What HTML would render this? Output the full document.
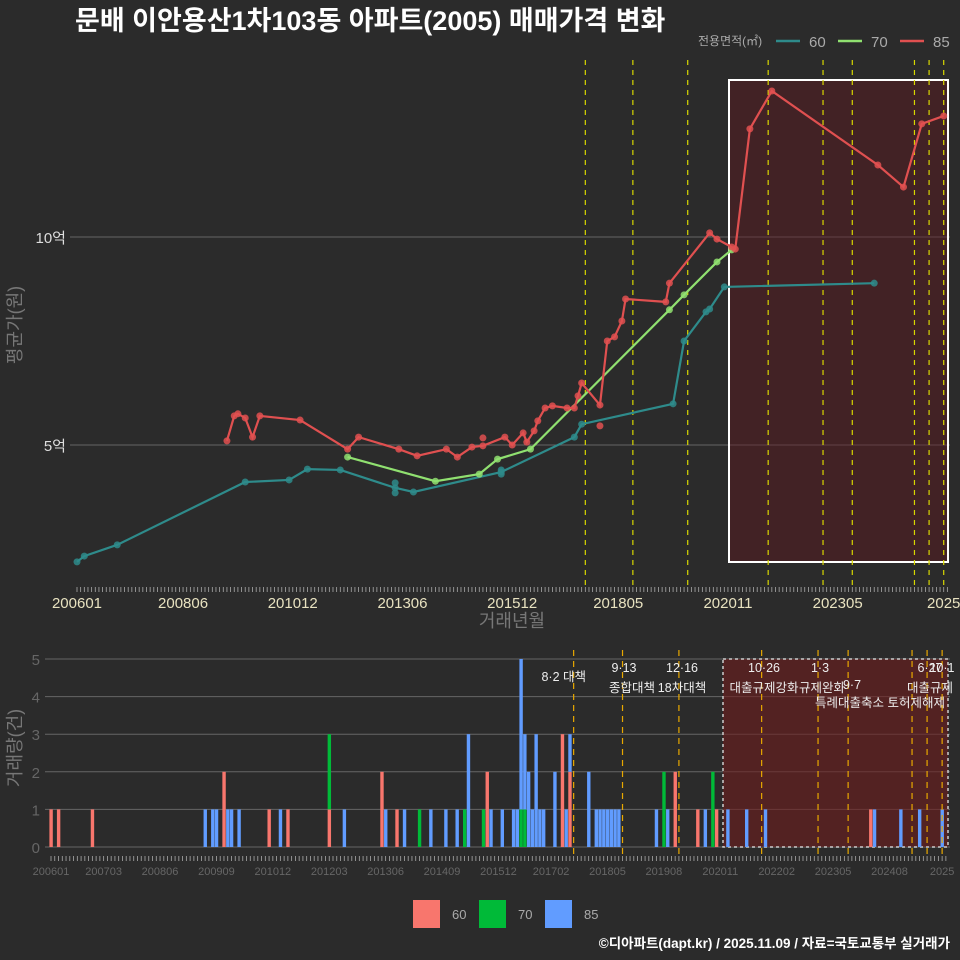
<!DOCTYPE html>
<html><head><meta charset="utf-8">
<style>
html,body{margin:0;padding:0;background:#2b2b2b;}
svg{display:block;font-family:"Liberation Sans","Noto Sans CJK KR",sans-serif;}
</style></head>
<body>
<svg id="chart" width="960" height="960" viewBox="0 0 960 960">
<rect x="0" y="0" width="960" height="960" fill="#2b2b2b"/>
<text x="75" y="30" fill="#ffffff" font-size="27" font-weight="bold">문배 이안용산1차103동 아파트(2005) 매매가격 변화</text>
<g>
<text x="698" y="45" fill="#aaaaaa" font-size="12">전용면적(㎡)</text>
<line x1="776" y1="41" x2="800" y2="41" stroke="#2e8b8b" stroke-width="2.5"/>
<text x="809" y="47" fill="#aaaaaa" font-size="15">60</text>
<line x1="838" y1="41" x2="862" y2="41" stroke="#90e070" stroke-width="2.5"/>
<text x="871" y="47" fill="#aaaaaa" font-size="15">70</text>
<line x1="900" y1="41" x2="924" y2="41" stroke="#e05050" stroke-width="2.5"/>
<text x="933" y="47" fill="#aaaaaa" font-size="15">85</text>
</g>
<g id="topPanel"></g>
<g id="botPanel"></g>
<text transform="translate(21,325) rotate(-90)" text-anchor="middle" fill="#777777" font-size="18">평균가(원)</text>
<text x="512" y="627" text-anchor="middle" fill="#777777" font-size="18">거래년월</text>
<text transform="translate(21,748) rotate(-90)" text-anchor="middle" fill="#777777" font-size="18">거래량(건)</text>
<g>
<rect x="413" y="900" width="27" height="28" fill="#f8766d"/>
<text x="452" y="919" fill="#aaaaaa" font-size="13">60</text>
<rect x="479" y="900" width="27" height="28" fill="#00ba38"/>
<text x="518" y="919" fill="#aaaaaa" font-size="13">70</text>
<rect x="545" y="900" width="27" height="28" fill="#619cff"/>
<text x="584" y="919" fill="#aaaaaa" font-size="13">85</text>
</g>
<text x="950" y="948" text-anchor="end" fill="#ffffff" font-size="13.5" font-weight="bold">©디아파트(dapt.kr) / 2025.11.09 / 자료=국토교통부 실거래가</text>
</svg>
<script>
// ---- data (month index from 2006-01, price in 억) ----
const m60 = [0,2,11,46,58,63,72,87,92,116,136,138,163,166,172,173,177,218];
const v60 = [2.19,2.33,2.60,4.11,4.16,4.42,4.40,3.97,3.87,4.35,5.19,5.50,5.99,7.50,8.20,8.27,8.80,8.89];
const m70 = [74,98,110,115,124,162,166,175,179];
const v70 = [4.71,4.13,4.30,4.66,4.90,8.25,8.61,9.40,9.69];
const m85 = [41,43,44,46,48,50,61,74,77,88,93,101,104,108,111,117,119,122,123,125,126,128,130,134,136,137,138,143,145,147,149,150,161,162,173,175,179,180,184,190,219,226,231,237];
const v85 = [5.10,5.70,5.75,5.65,5.19,5.70,5.60,4.90,5.19,4.90,4.74,4.90,4.71,4.95,4.98,5.19,5.00,5.29,5.07,5.34,5.58,5.89,5.94,5.89,5.89,6.18,6.49,5.96,7.50,7.60,7.98,8.51,8.44,8.89,10.10,9.95,9.76,9.71,12.60,13.51,11.73,11.20,12.72,12.91];
const extraM60 = [87,87,116,116];
const extraV60 = [4.09,3.85,4.30,4.40];
const extraM85 = [111,143];
const extraV85 = [5.17,5.46];
const yTicks = [5,10];
const yTickLabels = ["5억","10억"];
const xTickMonths = [0,29,59,89,119,148,178,208,237];
const xTickLabels = ["200601","200806","201012","201306","201512","201805","202011","202305","2025"];
const policyMonths = [139,152,167,189,204,212,229,233,237];
// volume bars
const bm60 = [0,2,11,46,58,63,74,88,92,116,136,138,166,172,177,218];
const bc60 = [1,1,1,2,1,1,1,2,1,2,3,2,2,1,1,1];
const bm70 = [74,98,110,115,125,126,163,176];
const bc70 = [2,1,1,1,1,1,2,2];
const bm85 = [41,43,44,47,48,50,61,78,89,94,101,105,108,111,117,120,123,124,125,126,127,128,129,130,131,134,137,138,143,145,146,147,148,149,150,151,161,164,174,180,185,190,219,226,231,237];
const bc85 = [1,1,1,1,1,1,1,1,1,1,1,1,1,3,1,1,1,1,4,2,2,1,3,1,1,2,1,1,2,1,1,1,1,1,1,1,1,1,1,1,1,1,1,1,1,1];
const volTicks = [0,1,2,3,4,5];
const volXMonths = [0,14,29,44,59,74,89,104,119,133,148,163,178,193,208,223,237];
const volXLabels = ["200601","200703","200806","200909","201012","201203","201306","201409","201512","201702","201805","201908","202011","202202","202305","202408","2025"];

const NS="http://www.w3.org/2000/svg";
function mk(parent,tag,attrs){const e=document.createElementNS(NS,tag);for(const k in attrs)e.setAttribute(k,attrs[k]);parent.appendChild(e);return e;}
const tx = m => 77 + m*3.657;
const ty = v => 445 - (v-5)*41.6;
const bx = m => 51 + m*3.76;
const by = c => 847 - c*37.6;

const topG = document.getElementById('topPanel');
const botG = document.getElementById('botPanel');

yTicks.forEach((t,i)=>{
  const l = mk(topG,'line',{x1:70,x2:950,y1:ty(t),y2:ty(t),stroke:'#666666','stroke-width':1});
  
  
  const tt = mk(topG,'text',{x:66,y:ty(t)+6,'text-anchor':'end',fill:'#dddddd','font-size':15});
  tt.textContent = yTickLabels[i];
  
  
});
const sr = mk(topG,'rect',{x:729,y:80,width:219,height:482,fill:'rgba(95,25,30,0.45)',stroke:'#ffffff','stroke-width':2});


policyMonths.forEach(m=>{
  const l = mk(topG,'line',{x1:tx(m),x2:tx(m),y1:60,y2:590,stroke:'#d8d800','stroke-width':1.2,'stroke-dasharray':'5,5'});
  
  
});
for(let m=0;m<=238;m++){
  const l = mk(topG,'line',{x1:tx(m),x2:tx(m),y1:587,y2:592,stroke:'#aaaaaa','stroke-width':0.8});
  
  
}
xTickMonths.forEach((m,i)=>{
  const t = mk(topG,'text',{x:tx(m),y:608,'text-anchor':'middle',fill:'#e8e2c0','font-size':15});
  t.textContent = xTickLabels[i];
  
  
});
function series(ms,vs,color,name){
  const pts = ms.map((m,i)=>tx(m)+','+ty(vs[i])).join(' ');
  const pl = mk(topG,'polyline',{points:pts,fill:'none',stroke:color,'stroke-width':2.2});
  
  
  ms.forEach((m,i)=>{
    const c = mk(topG,'circle',{cx:tx(m),cy:ty(vs[i]),r:3.5,fill:color,'fill-opacity':0.85});
    
    
  });
}
series(m60,v60,'#2e8b8b','60');
extraM60.forEach((m,i)=>{
  const c = mk(topG,'circle',{cx:tx(m),cy:ty(extraV60[i]),r:3.5,fill:'#2e8b8b','fill-opacity':0.85});
  
  
});
series(m70,v70,'#90e070','70');
series(m85,v85,'#e05050','85');
extraM85.forEach((m,i)=>{
  const c = mk(topG,'circle',{cx:tx(m),cy:ty(extraV85[i]),r:3.5,fill:'#e05050','fill-opacity':0.85});
  
  
});

// ---- bottom panel ----
volTicks.forEach(t=>{
  const l = mk(botG,'line',{x1:45,x2:950,y1:by(t),y2:by(t),stroke:'#666666','stroke-width':1});
  
  
  const tt = mk(botG,'text',{x:40,y:by(t)+6,'text-anchor':'end',fill:'#666666','font-size':15});
  tt.textContent = t;
  
  
});
const br = mk(botG,'rect',{x:723,y:659,width:225,height:188,fill:'rgba(110,28,28,0.6)',stroke:'#cccccc','stroke-width':1.5,'stroke-dasharray':'3,3'});


const stack = {};
function addBars(ms,cs,color,name){
  ms.forEach((m,i)=>{
    const base = stack[m]||0;
    const r = mk(botG,'rect',{x:bx(m)-1.6,y:by(base+cs[i]),width:3.4,height:by(base)-by(base+cs[i]),fill:color});
    
    
    stack[m]=base+cs[i];
  });
}
addBars(bm60,bc60,'#f8766d','60');
addBars(bm70,bc70,'#00ba38','70');
addBars(bm85,bc85,'#619cff','85');
policyMonths.forEach(m=>{
  const l = mk(botG,'line',{x1:bx(m),x2:bx(m),y1:650,y2:856,stroke:'#e8a800','stroke-width':1.2,'stroke-dasharray':'6,5'});
  
  
});
const notes = [
  [586,681,'8·2 대책','end'],[624,672,'9·13','middle'],[632,692,'종합대책','middle'],
  [682,672,'12·16','middle'],[682,692,'18차대책','middle'],
  [764,672,'10·26','middle'],[764,692,'대출규제강화','middle'],
  [820,672,'1·3','middle'],[822,692,'규제완화','middle'],[852,689,'9·7','middle'],
  [880,707,'특례대출축소 토허제해제','middle'],
  [930,672,'6·27','middle'],[942,672,'10·1','middle'],[930,692,'대출규제','middle']
];
notes.forEach(n=>{
  const t = mk(botG,'text',{x:n[0],y:n[1],'text-anchor':n[3],fill:'#eeeeee','font-size':12.5});
  t.textContent = n[2];
  
  
});
for(let m=0;m<=238;m++){
  const l = mk(botG,'line',{x1:bx(m),x2:bx(m),y1:856,y2:861,stroke:'#aaaaaa','stroke-width':0.8});
  
  
}
volXMonths.forEach((m,i)=>{
  const t = mk(botG,'text',{x:bx(m),y:875,'text-anchor':'middle',fill:'#666666','font-size':11});
  t.textContent = volXLabels[i];
  
  
});
</script>
</body></html>
